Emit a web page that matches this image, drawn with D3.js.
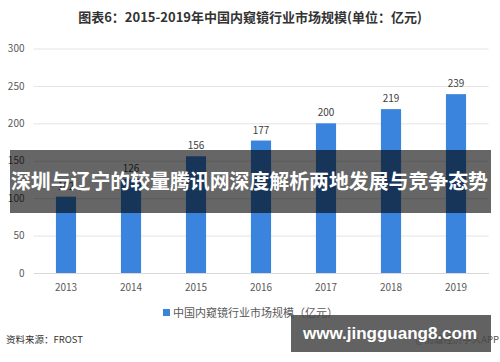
<!DOCTYPE html>
<html><head><meta charset="utf-8">
<script src="https://cdn.jsdelivr.net/npm/d3@7/dist/d3.min.js"></script>
<style>body{margin:0;background:#fff;}svg{display:block;}</style>
</head><body>
<script>
const categories = ["2013","2014","2015","2016","2017","2018","2019"];
const values = [102,126,156,177,200,219,239];
const yTicks = [0,50,100,150,200,250,300];
const titleText = "图表6：2015-2019年中国内窥镜行业市场规模(单位：亿元)";
const legendText = "中国内窥镜行业市场规模（亿元）";
const sourceText = "资料来源：FROST";
const creditText = "@前瞻经济学人APP";
const bannerText = "深圳与辽宁的较量腾讯网深度解析两地发展与竞争态势";
const urlText = "www.jingguang8.com";

const W = 500, H = 362;
const cjk = '"Noto Sans CJK SC", "Noto Sans", sans-serif';
const svg = d3.select("body").append("svg").attr("width", W).attr("height", H);

const x = d3.scaleBand().domain(categories).range([33.5, 488.5]).paddingInner(0.69).paddingOuter(0.345);
const y = d3.scaleLinear().domain([0, 300]).range([273, 48.5]);

svg.append("text").attr("x", 250).attr("y", 22).attr("text-anchor", "middle")
  .attr("font-family", cjk).attr("font-weight", "bold").attr("font-size", 13).attr("fill", "#333")
  .text(titleText);

// grid
const yAxis = d3.axisLeft(y).tickValues(yTicks).tickSize(-(488.5 - 33.5)).tickPadding(9);
const gy = svg.append("g").attr("transform", "translate(33.5,0)").call(yAxis);
gy.select(".domain").remove();
gy.selectAll(".tick line").attr("stroke", "#e3e3e3").attr("stroke-width", 1);
gy.selectAll(".tick text").attr("font-family", cjk).attr("font-size", 10).attr("fill", "#595959");

// x axis
const xAxis = d3.axisBottom(x).tickSize(0).tickPadding(11);
const gx = svg.append("g").attr("transform", "translate(0,273)").call(xAxis);
gx.select(".domain").attr("stroke", "#d9d9d9");
gx.selectAll(".tick text").attr("font-family", cjk).attr("font-size", 10).attr("fill", "#595959");

// bars
svg.append("g").selectAll("rect").data(values).join("rect")
  .attr("x", (d, i) => x(categories[i]))
  .attr("width", x.bandwidth())
  .attr("y", d => y(d))
  .attr("height", d => y(0) - y(d))
  .attr("fill", "#3b84de");

svg.append("g").selectAll("text").data(values).join("text")
  .attr("x", (d, i) => x(categories[i]) + x.bandwidth() / 2)
  .attr("y", d => y(d) - 7)
  .attr("text-anchor", "middle")
  .attr("font-family", cjk).attr("font-size", 10).attr("fill", "#404040")
  .text(d => d);

// legend
svg.append("rect").attr("x", 163).attr("y", 309).attr("width", 7).attr("height", 7).attr("fill", "#3b84de");
svg.append("text").attr("x", 173).attr("y", 316.5).attr("font-family", cjk).attr("font-size", 11).attr("fill", "#595959")
  .text(legendText);

// source
svg.append("text").attr("x", 6).attr("y", 343).attr("font-family", cjk).attr("font-size", 9.5).attr("fill", "#333")
  .text(sourceText);
svg.append("text").attr("x", 499).attr("y", 343).attr("text-anchor", "end").attr("font-family", cjk).attr("font-size", 9.5).attr("fill", "#555")
  .text(creditText);

// overlays
svg.append("rect").attr("x", 10).attr("y", 150).attr("width", 481).attr("height", 63).attr("fill", "rgba(0,0,0,0.6)");
svg.append("text").attr("x", 11).attr("y", 189)
  .attr("textLength", 477).attr("lengthAdjust", "spacingAndGlyphs")
  .attr("font-family", cjk).attr("font-weight", "bold").attr("font-size", 20).attr("fill", "#fff")
  .text(bannerText);

svg.append("rect").attr("x", 291).attr("y", 315).attr("width", 200).attr("height", 37).attr("fill", "rgba(70,70,70,0.85)");
svg.append("text").attr("x", 390).attr("y", 339).attr("text-anchor", "middle")
  .attr("font-family", '"Liberation Sans", Arial, sans-serif').attr("font-weight", "bold").attr("font-size", 17).attr("fill", "#fff")
  .text(urlText);
</script>
</body></html>
